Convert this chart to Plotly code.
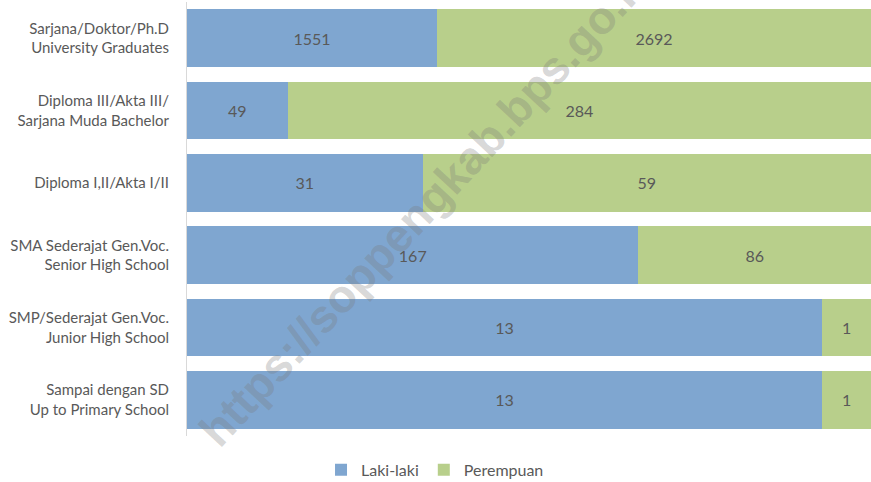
import plotly.graph_objects as go

categories = [
    "Sarjana/Doktor/Ph.D<br>University Graduates",
    "Diploma III/Akta III/<br>Sarjana Muda Bachelor",
    "Diploma I,II/Akta I/II",
    "SMA Sederajat Gen.Voc.<br>Senior High School",
    "SMP/Sederajat Gen.Voc.<br>Junior High School",
    "Sampai dengan SD<br>Up to Primary School",
]
laki = [1551, 49, 31, 167, 13, 13]
perempuan = [2692, 284, 59, 86, 1, 1]

font_family = "Lato, 'Open Sans', sans-serif"
label_color = "#595959"

fig = go.Figure()
fig.add_trace(go.Bar(
    y=categories, x=laki, name="Laki-laki", orientation="h",
    marker=dict(color="#7FA6D0", line=dict(width=0)),
    text=laki, textposition="inside", insidetextanchor="middle",
    textangle=0, constraintext="none",
    textfont=dict(color=label_color, size=16, family=font_family),
))
fig.add_trace(go.Bar(
    y=categories, x=perempuan, name="Perempuan", orientation="h",
    marker=dict(color="#B8CF8B", line=dict(width=0)),
    text=perempuan, textposition="inside", insidetextanchor="middle",
    textangle=0, constraintext="none",
    textfont=dict(color=label_color, size=16, family=font_family),
))

fig.add_annotation(
    text="https://soppengkab.bps.go.id",
    xref="paper", yref="paper", x=0.35, y=0.535,
    showarrow=False, textangle=-47,
    font=dict(family="Liberation Sans, Arial, sans-serif", size=46,
              color="rgba(120,120,120,0.3)", weight="bold"),
)

fig.update_layout(
    width=871, height=482,
    barmode="stack", barnorm="percent", bargap=0.2,
    paper_bgcolor="white", plot_bgcolor="white",
    margin=dict(l=187, r=0, t=2, b=46, autoexpand=False),
    font=dict(family=font_family, color=label_color, size=15),
    xaxis=dict(visible=False, range=[0, 100]),
    yaxis=dict(
        categoryorder="array", categoryarray=categories, autorange="reversed",
        showline=True, linecolor="#d9d9d9", linewidth=1,
        showgrid=False, zeroline=False, ticks="",
        ticklabelstandoff=14, automargin=False,
        tickfont=dict(size=15, color=label_color, family=font_family),
    ),
    legend=dict(
        orientation="h",
        x=0.3626, xanchor="center", y=-0.078, yanchor="middle",
        font=dict(size=16, color=label_color, family=font_family),
        traceorder="normal",
    ),
    showlegend=True,
)

fig.write_html(
    "out.html",
    config={"displayModeBar": False},
    post_script="document.body.style.margin='0';document.body.style.overflow='hidden';",
)
